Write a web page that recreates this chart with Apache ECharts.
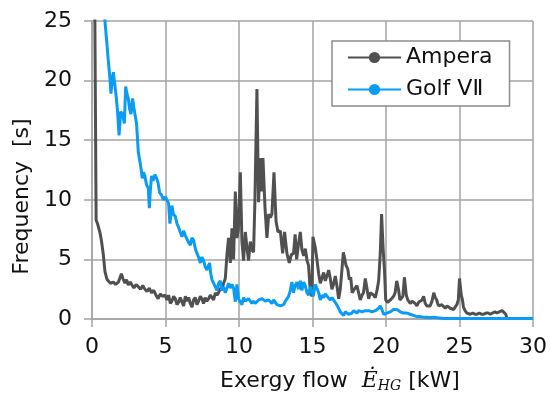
<!DOCTYPE html>
<html><head><meta charset="utf-8">
<script src="https://cdn.jsdelivr.net/npm/echarts@6/dist/echarts.min.js"></script>
<style>html,body{margin:0;padding:0;background:#fff}#c{width:557px;height:402px}</style>
</head><body><div id="c"></div>
<script>
const seriesNames = ['Ampera', 'Golf V\u2161'];
const xTicks = [0, 5, 10, 15, 20, 25, 30];
const yTicks = [0, 5, 10, 15, 20, 25];

const amperaX = [0.12,0.28,0.4,0.55,0.65,0.77,0.88,1.0,1.1,1.25,1.45,1.6,1.8,2.0,2.1,2.24,2.35,2.47,2.6,2.7,2.85,3.0,3.15,3.3,3.45,3.6,3.75,3.9,4.05,4.2,4.35,4.5,4.65,4.8,4.97,5.1,5.21,5.33,5.44,5.55,5.67,5.78,5.89,6.0,6.12,6.23,6.35,6.46,6.57,6.69,6.8,6.91,7.03,7.14,7.25,7.37,7.48,7.59,7.7,7.82,7.93,8.05,8.16,8.27,8.39,8.5,8.61,8.73,8.84,8.95,9.07,9.18,9.29,9.41,9.52,9.63,9.75,9.86,9.95,10.09,10.2,10.31,10.43,10.54,10.65,10.77,10.88,10.99,11.08,11.22,11.33,11.45,11.52,11.63,11.77,11.9,12.02,12.13,12.24,12.38,12.52,12.65,12.81,12.97,13.1,13.26,13.42,13.56,13.71,13.82,13.92,14.05,14.17,14.28,14.4,14.51,14.63,14.73,14.85,14.96,15.03,15.19,15.3,15.42,15.53,15.65,15.76,15.87,15.98,16.1,16.21,16.32,16.43,16.55,16.66,16.78,16.89,17.0,17.1,17.28,17.4,17.5,17.6,17.7,17.9,18.02,18.14,18.25,18.37,18.47,18.59,18.7,18.82,18.93,19.05,19.16,19.27,19.39,19.5,19.61,19.7,19.8,19.9,19.98,20.1,20.2,20.3,20.4,20.52,20.62,20.73,20.85,20.95,21.05,21.15,21.25,21.38,21.48,21.54,21.65,21.77,21.88,21.99,22.1,22.22,22.35,22.45,22.56,22.67,22.78,22.9,23.0,23.13,23.25,23.35,23.45,23.51,23.6,23.69,23.8,23.9,24.03,24.15,24.25,24.37,24.5,24.6,24.71,24.82,24.92,25.0,25.12,25.2,25.27,25.38,25.5,25.6,25.73,25.9,26.05,26.19,26.35,26.5,26.64,26.8,26.95,27.1,27.25,27.4,27.55,27.7,27.78,27.9,28.0,28.15,28.23,28.3];
const amperaY = [40,8.3,7.9,7.2,6.5,5.4,4.0,3.4,3.2,3.0,3.1,2.9,3.1,3.8,3.4,3.0,3.3,2.85,3.1,2.9,2.6,2.9,2.7,2.5,2.8,2.5,2.3,2.6,2.2,2.4,2.0,1.7,2.1,1.9,2.0,1.6,2.0,1.3,1.5,1.9,1.7,1.2,1.4,1.8,1.7,1.1,1.9,1.5,1.8,1.3,1.0,1.6,1.8,1.2,1.5,1.9,1.7,1.3,1.8,1.5,1.7,2.0,1.9,1.6,2.2,2.0,2.2,2.6,2.4,3.0,3.4,5.4,6.8,4.7,7.6,5.0,10.7,6.8,7.4,12.3,6.5,4.9,7.3,6.0,4.9,6.5,5.8,5.6,9.8,19.3,9.8,13.5,10.7,13.5,9.3,6.8,8.8,8.5,8.8,12.3,8.2,7.3,7.4,5.5,7.3,5.5,4.7,5.4,5.5,7.1,5.0,6.3,7.3,5.8,5.3,5.9,4.9,4.5,2.3,1.9,6.9,6.0,5.0,3.8,3.0,3.0,3.9,3.2,3.6,4.1,3.4,2.5,2.9,3.6,2.8,1.7,2.5,4.1,5.6,4.5,4.2,3.3,3.5,2.2,2.6,2.8,2.2,1.6,2.0,2.2,3.4,3.5,1.7,2.2,2.2,2.0,1.8,2.4,3.2,5.5,8.8,6.0,4.0,1.6,1.4,1.3,1.6,1.5,1.9,2.2,3.2,2.5,1.6,1.7,1.9,3.5,2.0,1.6,1.5,1.3,1.5,1.6,1.3,1.1,1.4,1.5,1.6,1.9,1.3,1.1,1.2,1.1,1.5,2.2,1.8,1.6,1.3,1.1,1.0,1.2,1.1,0.9,1.1,1.1,0.9,1.0,0.8,0.9,1.2,1.6,3.4,2.0,1.6,1.0,0.7,0.5,0.4,0.4,0.5,0.4,0.4,0.5,0.4,0.4,0.5,0.5,0.4,0.5,0.6,0.5,0.6,0.7,0.7,0.6,0.4,0.0];

const golfX = [0.75,0.88,1.0,1.1,1.22,1.29,1.37,1.45,1.56,1.65,1.74,1.84,1.95,2.08,2.2,2.29,2.38,2.47,2.56,2.65,2.76,2.85,2.92,3.03,3.15,3.26,3.35,3.42,3.5,3.6,3.7,3.83,3.9,3.97,4.05,4.15,4.28,4.4,4.5,4.6,4.73,4.85,4.99,5.07,5.21,5.3,5.44,5.53,5.67,5.78,5.89,6.0,6.12,6.23,6.35,6.46,6.57,6.69,6.8,6.91,7.03,7.14,7.25,7.37,7.48,7.59,7.7,7.82,7.93,8.0,8.08,8.16,8.27,8.39,8.5,8.61,8.73,8.84,8.95,9.07,9.18,9.29,9.41,9.52,9.63,9.75,9.86,9.97,10.1,10.2,10.31,10.43,10.54,10.65,10.77,10.88,10.99,11.1,11.22,11.33,11.45,11.56,11.67,11.79,11.9,12.02,12.13,12.24,12.36,12.47,12.58,12.7,12.81,12.92,13.04,13.15,13.26,13.37,13.49,13.6,13.71,13.82,13.94,14.05,14.17,14.28,14.4,14.51,14.62,14.73,14.85,14.96,15.05,15.19,15.3,15.42,15.53,15.65,15.76,15.87,15.99,16.1,16.21,16.32,16.44,16.55,16.67,16.78,16.89,17.0,17.12,17.23,17.35,17.46,17.57,17.68,17.8,17.91,18.03,18.14,18.25,18.37,18.48,18.59,18.7,18.82,18.93,19.05,19.16,19.27,19.38,19.5,19.61,19.72,19.84,19.95,20.06,20.18,20.29,20.4,20.51,20.63,20.74,20.85,20.97,21.08,21.19,21.31,21.42,21.54,21.65,21.76,21.87,22.0,22.1,22.33,22.55,22.78,23.0,23.24,23.5,24,25,26,27,28,29,30];
const golfY = [27,25,23.3,21.8,20.2,18.9,20.0,20.7,19.6,18.6,17.4,15.4,17.4,17.2,16.4,19.5,18.9,18.5,17.6,17.2,18.5,17.7,17.8,16.4,14.0,13.2,12.5,11.8,12.3,12.0,11.3,10.95,9.3,10.8,12.0,11.6,12.1,11.8,11.4,10.6,10.4,10.0,10.25,10.1,9.7,8.0,9.5,8.8,8.6,8.0,7.7,7.3,6.9,7.4,7.0,6.9,6.4,6.2,6.8,6.6,5.9,5.5,5.2,4.7,5.2,4.9,4.4,4.1,4.5,4.7,3.8,3.3,3.2,2.7,2.4,3.0,3.2,2.4,2.7,2.2,2.6,3.0,2.6,2.9,2.6,1.45,2.9,1.7,1.4,1.2,1.8,1.5,1.4,1.7,1.7,1.3,1.5,1.3,1.2,1.6,1.5,1.7,1.8,1.5,1.4,1.6,1.5,1.3,1.6,1.4,1.2,1.3,1.1,1.0,1.2,1.5,1.6,1.9,2.4,3.1,2.2,2.8,3.1,2.5,3.2,2.4,3.1,2.8,2.2,2.0,2.7,2.3,1.9,2.9,2.6,2.2,1.6,2.0,1.8,2.1,1.9,2.0,1.6,1.8,1.7,1.4,1.3,0.9,0.6,0.7,0.3,0.6,0.6,0.4,0.3,0.5,0.7,0.6,0.5,0.7,0.8,0.6,0.5,0.7,0.8,0.7,0.8,0.6,0.5,0.7,0.8,0.9,1.1,0.8,0.4,0.5,0.5,0.6,0.6,0.7,0.8,0.7,0.8,0.7,0.6,0.5,0.5,0.6,0.5,0.4,0.4,0.3,0.3,0.2,0.2,0.2,0.15,0.15,0.1,0.15,0.1,0.05,0.05,0.05,0.05,0.05,0.05,0.05];

const pairs = (xs, ys) => xs.map((x, i) => [x, ys[i]]);
const gridColor = '#a3a3a3';
const font = 'DejaVu Sans';

const chart = echarts.init(document.getElementById('c'), null, {renderer: 'canvas'});
chart.setOption({
  animation: false,
  backgroundColor: '#fff',
  grid: {left: 92, right: 24, top: 21, bottom: 83, containLabel: false},
  legend: {
    left: 332, top: 41,
    orient: 'vertical',
    data: seriesNames,
    backgroundColor: '#fff',
    borderColor: '#8c8c8c', borderWidth: 1.5,
    padding: [3, 17, 3, 15],
    itemWidth: 53, itemHeight: 14, itemGap: 5,
    textStyle: {fontFamily: font, fontSize: 22, color: '#111', lineHeight: 27}
  },
  xAxis: {
    type: 'value', min: xTicks[0], max: xTicks[xTicks.length - 1], interval: 5,
    name: '{n|Exergy flow  }{e|Ė}{s|HG}{n| [kW]}',
    nameLocation: 'middle', nameGap: 50,
    nameTextStyle: {
      padding: [0, 0, 0, 55],
      rich: {
        n: {fontFamily: font, fontSize: 22, color: '#111'},
        e: {fontFamily: 'DejaVu Serif', fontStyle: 'italic', fontSize: 22, color: '#111'},
        s: {fontFamily: 'DejaVu Serif', fontStyle: 'italic', fontSize: 14, color: '#111', padding: [10, 0, 0, 0]}
      }
    },
    axisLine: {show: true, lineStyle: {color: gridColor, width: 1.5}},
    axisTick: {show: true, length: 8, lineStyle: {color: gridColor, width: 1.5}},
    axisLabel: {fontFamily: font, fontSize: 22, color: '#111', margin: 17},
    splitLine: {show: true, lineStyle: {color: gridColor, width: 1.5}}
  },
  yAxis: {
    type: 'value', min: yTicks[0], max: yTicks[yTicks.length - 1], interval: 5,
    name: 'Frequency  [s]',
    nameLocation: 'middle', nameGap: 58,
    nameTextStyle: {fontFamily: font, fontSize: 22, color: '#111', padding: [0, 53, 0, 0]},
    axisLine: {show: true, lineStyle: {color: gridColor, width: 1.5}},
    axisTick: {show: true, length: 8, lineStyle: {color: gridColor, width: 1.5}},
    axisLabel: {fontFamily: font, fontSize: 22, color: '#111', margin: 20},
    splitLine: {show: true, lineStyle: {color: gridColor, width: 1.5}}
  },
  series: [
    {name: seriesNames[0], type: 'line', data: pairs(amperaX, amperaY), showSymbol: false, symbol: 'none',
     lineStyle: {color: '#505050', width: 3}, itemStyle: {color: '#505050'}, clip: true},
    {name: seriesNames[1], type: 'line', data: pairs(golfX, golfY), showSymbol: false, symbol: 'none',
     lineStyle: {color: '#0a9cf5', width: 3}, itemStyle: {color: '#0a9cf5'}, clip: true}
  ]
});
</script></body></html>
